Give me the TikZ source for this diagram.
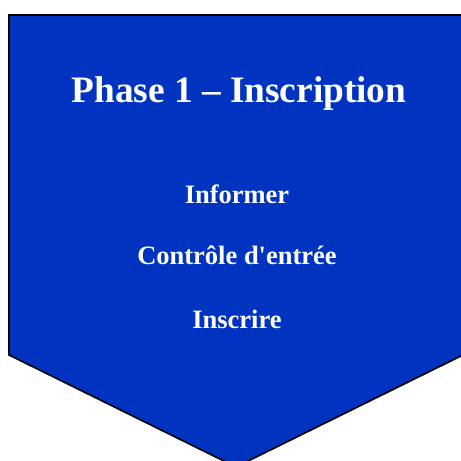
\documentclass[tikz,border=0pt]{standalone}
\usepackage{fontspec}
\setmainfont{Liberation Serif}
\usetikzlibrary{positioning}
\definecolor{phaseblue}{RGB}{0,51,191}
\begin{document}
\begin{tikzpicture}[x=1pt, y=-1pt, titl/.style={anchor=base,text=white,
		font=\bfseries\fontsize{37.3}{40}\selectfont}, item/.style={anchor=base,text=white,
		font=\bfseries\fontsize{26.5}{30}\selectfont}]
	\useasboundingbox (0, 0) rectangle (461, 461);
	\begin{scope}
	\clip (0, 0) rectangle (461, 461);
	\draw[line width=1.6pt, fill=phaseblue] (9, 15) -- (463, 15) -- (463, 355)
		-- (236, 467) -- (9, 355) -- cycle;
	\end{scope}
	\node[titl] (0) at (239, 102) {Phase 1 -- Inscription};
	\node[item] (1) at (237, 203) {Informer};
	\node[item] (2) at (237, 264) {Contrôle d\textquotesingle entrée};
	\node[item] (3) at (237, 328) {Inscrire};
\end{tikzpicture}
\end{document}
